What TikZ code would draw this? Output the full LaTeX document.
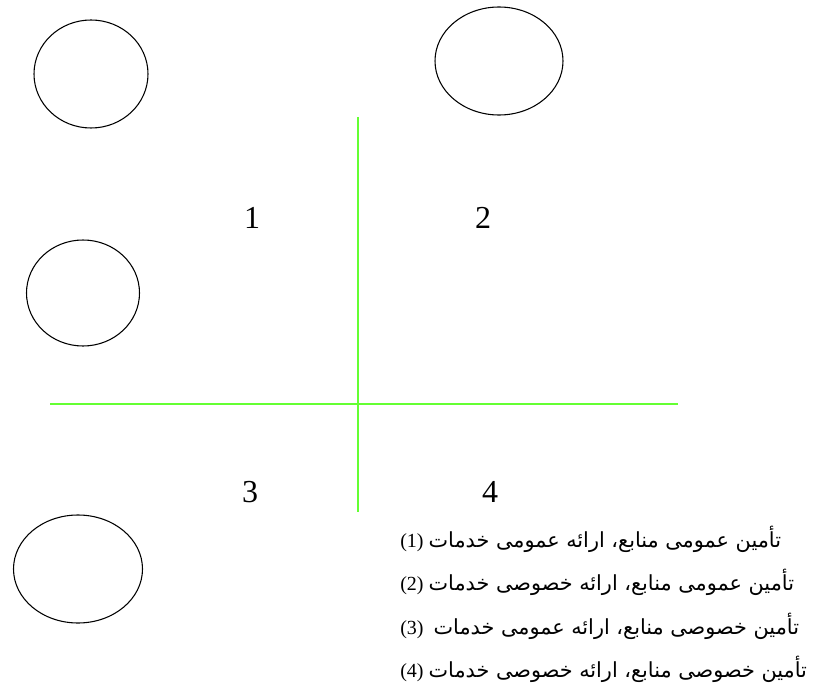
\documentclass[tikz,border=0pt]{standalone}
\usepackage{fontspec}
\setmainfont{Liberation Serif}
\newfontfamily\persfont[Script=Arabic]{DejaVu Sans}
\TeXXeTstate=1
\usetikzlibrary{shapes.geometric}
\definecolor{crossgreen}{RGB}{100,255,50}
\tikzset{
  blob/.style={draw, ellipse, line width=0.8pt, inner sep=0pt},
  quad/.style={font=\fontsize{24}{28}\selectfont},
  item/.style={anchor=base west, inner sep=0pt, font=\fontsize{15}{18}\selectfont},
}
\newcommand{\pline}[1]{{\fontsize{15.6}{18}\persfont\beginR #1\endR}}
\begin{document}
\begin{tikzpicture}[x=0.75pt,y=-0.75pt]
\useasboundingbox (0,0) rectangle (817,688);

\node[blob, minimum width=85.5pt, minimum height=81pt] (topleft) at (91,74) {};
\node[blob, minimum width=96pt, minimum height=81pt] (topmid) at (499,61) {};
\node[blob, minimum width=84.75pt, minimum height=79.5pt] (midleft) at (83,293) {};
\node[blob, minimum width=96.75pt, minimum height=81pt] (botleft) at (78,569) {};

\coordinate (vtop) at (358,117);
\coordinate (vbot) at (358,512);
\coordinate (hleft) at (50,404);
\coordinate (hright) at (678,404);
\draw[crossgreen, line width=1.2pt] (vtop)--(vbot);
\draw[crossgreen, line width=1.2pt] (hleft)--(hright);

\node[quad] (q1) at (252,218){1};
\node[quad] (q2) at (483,218){2};
\node[quad] (q3) at (250,492){3};
\node[quad] (q4) at (490,492){4};

\node[item] (item1) at (400,547){(1) \pline{تأمین عمومی منابع، ارائه عمومی خدمات}};
\node[item] (item2) at (400,590.5){(2) \pline{تأمین عمومی منابع، ارائه خصوصی خدمات}};
\node[item] (item3) at (400,634){(3)\ \ \pline{تأمین خصوصی منابع، ارائه عمومی خدمات}};
\node[item] (item4) at (400,677.5){(4) \pline{تأمین خصوصی منابع، ارائه خصوصی خدمات}};
\end{tikzpicture}
\end{document}
